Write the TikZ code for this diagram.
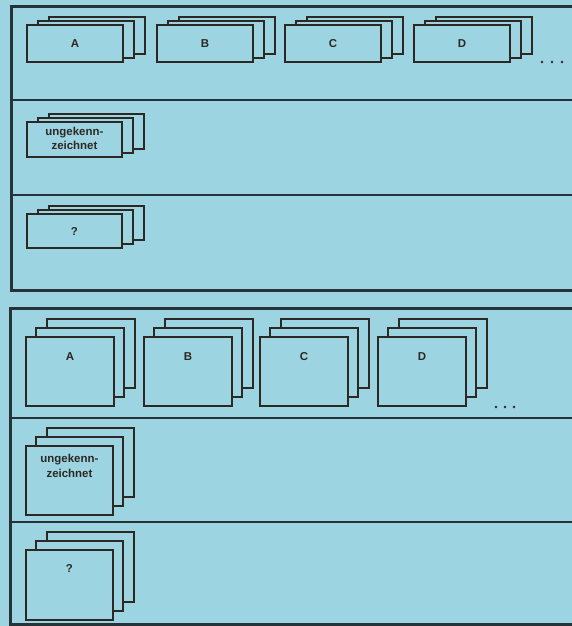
\documentclass[tikz,border=0pt]{standalone}
\usepackage{fontspec}
\setmainfont{Liberation Sans}
\definecolor{bg}{RGB}{156,212,225}
\definecolor{frame}{RGB}{38,52,58}
\definecolor{ink}{RGB}{45,40,36}
\newcommand\mystack[9]{%
  \node[card, minimum width=#4bp, minimum height=#5bp] (#1-back) at (#2+#8, #3+#9) {};
  \node[card, minimum width=#4bp, minimum height=#5bp] (#1-mid) at (#2+#6, #3+#7) {};
  \node[card, minimum width=#4bp, minimum height=#5bp] (#1) at (#2, #3) {};
}
\begin{document}
\begin{tikzpicture}[x=1bp,y=-1bp,
  card/.style={draw=ink, fill=bg, line width=1.9bp, rectangle, inner sep=0pt, anchor=north west},
  lbl/.style={font=\bfseries\fontsize{11.5}{14.5}\selectfont, text=ink, align=center, inner sep=0pt},
  panel/.style={draw=frame, line width=3bp},
  rowline/.style={draw=frame, line width=2.2bp},
  dot/.style={fill=ink}]
\fill[bg] (0,0) rectangle (572,626);
\useasboundingbox (0,0) rectangle (572,626);

% ---------- top panel ----------
\draw[panel] (576,7) -- (11,7) -- (11,290) -- (576,290);
\draw[rowline] (11,100) -- (576,100);
\draw[rowline] (11,195) -- (576,195);

\mystack{tA}{26}{24}{96}{37}{11}{-4}{22}{-8}
\mystack{tB}{156}{24}{96}{37}{11}{-4}{22}{-8}
\mystack{tC}{284}{24}{96}{37}{11}{-4}{22}{-8}
\mystack{tD}{413}{24}{96}{37}{11}{-4}{22}{-8}
\mystack{tU}{26}{121}{95}{35}{11}{-4}{22}{-8}
\mystack{tQ}{26}{213}{95}{34}{11}{-4}{22}{-8}

\node[lbl] (tA-t) at (tA.center) {A};
\node[lbl] (tB-t) at (tB.center) {B};
\node[lbl] (tC-t) at (tC.center) {C};
\node[lbl] (tD-t) at (tD.center) {D};
\node[lbl] (tU-t) at ([yshift=1bp]tU.center) {ungekenn-\\zeichnet};
\node[lbl] (tQ-t) at ([yshift=-1bp]tQ.center) {?};

\fill[dot] (542,62) circle (1.4);
\fill[dot] (552,62) circle (1.4);
\fill[dot] (562,62) circle (1.4);

% ---------- bottom panel ----------
\draw[panel] (576,308) -- (10,308) -- (10,624) -- (576,624);
\draw[rowline] (10,418) -- (576,418);
\draw[rowline] (10,522) -- (576,522);

\mystack{bA}{25}{336}{88}{69}{10}{-9}{21}{-18}
\mystack{bB}{143}{336}{88}{69}{10}{-9}{21}{-18}
\mystack{bC}{259}{336}{88}{69}{10}{-9}{21}{-18}
\mystack{bD}{377}{336}{88}{69}{10}{-9}{21}{-18}
\mystack{bU}{25}{445}{87}{69}{10}{-9}{21}{-18}
\mystack{bQ}{25}{549}{87}{70}{10}{-9}{21}{-18}

\node[lbl] (bA-t) at ([yshift=-21bp]bA.north) {A};
\node[lbl] (bB-t) at ([yshift=-21bp]bB.north) {B};
\node[lbl] (bC-t) at ([yshift=-21bp]bC.north) {C};
\node[lbl] (bD-t) at ([yshift=-21bp]bD.north) {D};
\node[lbl] (bU-t) at ([yshift=-21bp]bU.north) {ungekenn-\\zeichnet};
\node[lbl] (bQ-t) at ([yshift=-19bp]bQ.north) {?};

\fill[dot] (496,407) circle (1.4);
\fill[dot] (505,407) circle (1.4);
\fill[dot] (514,407) circle (1.4);
\end{tikzpicture}
\end{document}
